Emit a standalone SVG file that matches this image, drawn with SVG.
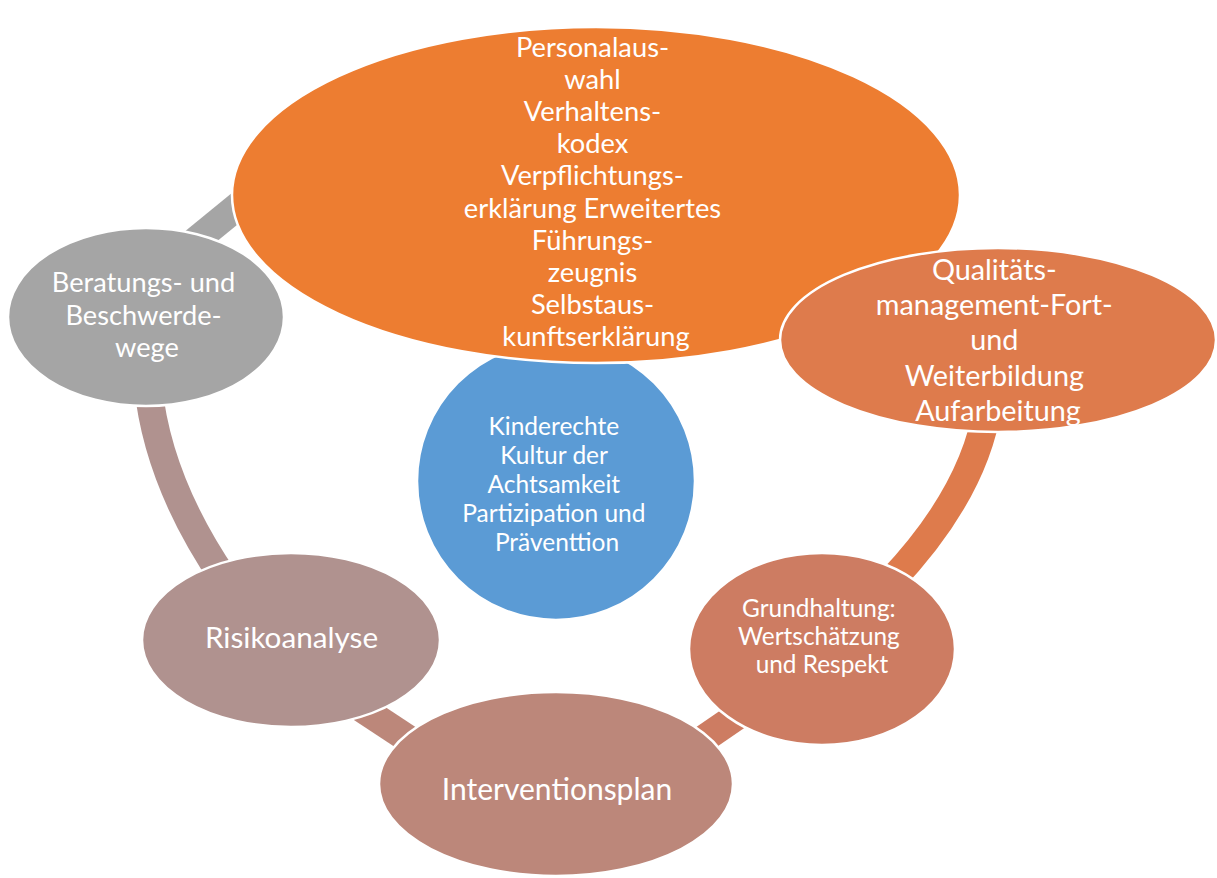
<svg xmlns="http://www.w3.org/2000/svg" width="1217" height="878" viewBox="0 0 1217 878">
  <style>
    .node { stroke: #FFFFFF; stroke-width: 2.5; }
    .lbl { font-family: Lato, "Open Sans", "Liberation Sans", sans-serif; fill: #FFFFFF; text-anchor: middle; }
    .seg { fill: none; stroke-width: 28; stroke-linecap: butt; }
  </style>
  <rect width="1217" height="878" fill="#FFFFFF"/>

  <!-- cycle ring segments between the nodes -->
  <g id="connectors">
    <path class="seg" stroke="#A5A5A5" d="M 178 255 L 270 180"/>
    <path class="seg" stroke="#B0928F" d="M 148 385 Q 157.5 481.5 225 580"/>
    <path class="seg" stroke="#BC877A" d="M 340 694 L 440 760"/>
    <path class="seg" stroke="#CD7C62" d="M 670 762 L 785 683"/>
    <path class="seg" stroke="#DE7B4C" d="M 988 405 Q 974.2 493.5 890 582"/>
  </g>

  <g id="center">
    <circle class="node" cx="556" cy="481" r="139" fill="#5B9BD5"/>
    <text class="lbl" font-size="24.5">
      <tspan x="557" y="435">Kinderechte</tspan>
      <tspan x="557" y="464">Kultur der</tspan>
      <tspan x="557" y="493">Achtsamkeit</tspan>
      <tspan x="557" y="522">Partizipation und</tspan>
      <tspan x="557" y="551">Präventtion</tspan>
    </text>
  </g>

  <g id="beratung">
    <ellipse class="node" cx="146" cy="317" rx="138" ry="89" fill="#A5A5A5"/>
    <text class="lbl" font-size="27.2">
      <tspan x="147" y="292">Beratungs- und</tspan>
      <tspan x="147" y="325">Beschwerde-</tspan>
      <tspan x="147" y="357">wege</tspan>
    </text>
  </g>

  <g id="praevention">
    <ellipse class="node" cx="596" cy="195" rx="364" ry="168" fill="#ED7D31"/>
    <text class="lbl" font-size="27.3">
      <tspan x="596" y="57">Personalaus-</tspan>
      <tspan x="596" y="89">wahl</tspan>
      <tspan x="596" y="121">Verhaltens-</tspan>
      <tspan x="596" y="153">kodex</tspan>
      <tspan x="596" y="185">Verpflichtungs-</tspan>
      <tspan x="596" y="218">erklärung Erweitertes</tspan>
      <tspan x="596" y="250">Führungs-</tspan>
      <tspan x="596" y="282">zeugnis</tspan>
      <tspan x="596" y="314">Selbstaus-</tspan>
      <tspan x="596" y="346">kunftserklärung</tspan>
    </text>
  </g>

  <g id="qualitaet">
    <ellipse class="node" cx="998" cy="340" rx="218" ry="92" fill="#DE7B4C"/>
    <text class="lbl" font-size="28.8">
      <tspan x="998" y="280">Qualitäts-</tspan>
      <tspan x="998" y="315">management-Fort-</tspan>
      <tspan x="998" y="350">und</tspan>
      <tspan x="998" y="386">Weiterbildung</tspan>
      <tspan x="998" y="421">Aufarbeitung</tspan>
    </text>
  </g>

  <g id="grundhaltung">
    <ellipse class="node" cx="822" cy="649" rx="133" ry="96" fill="#CD7C62"/>
    <text class="lbl" font-size="24.4">
      <tspan x="822" y="617">Grundhaltung:</tspan>
      <tspan x="822" y="645">Wertschätzung</tspan>
      <tspan x="822" y="673">und Respekt</tspan>
    </text>
  </g>

  <g id="intervention">
    <ellipse class="node" cx="556" cy="784" rx="177" ry="92" fill="#BC877A"/>
    <text class="lbl" font-size="30" x="557" y="800">Interventionsplan</text>
  </g>

  <g id="risiko">
    <ellipse class="node" cx="291" cy="640" rx="149" ry="87" fill="#B0928F"/>
    <text class="lbl" font-size="29.7" x="291.5" y="648">Risikoanalyse</text>
  </g>
</svg>
